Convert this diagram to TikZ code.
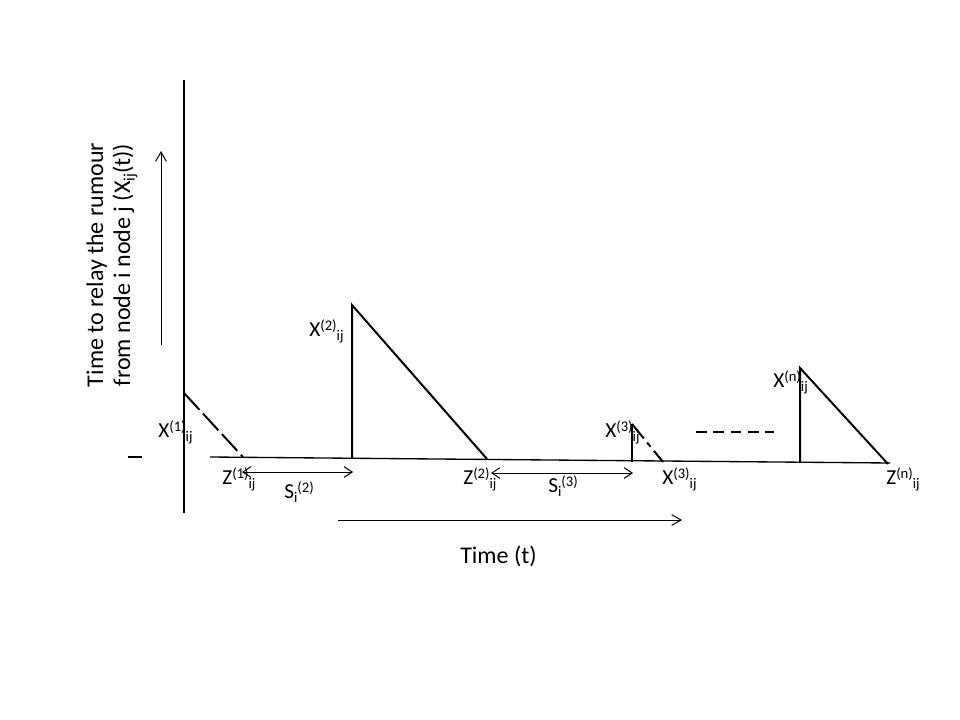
\documentclass[tikz,border=0pt]{standalone}
\usepackage{fontspec}
\setmainfont{Carlito}
\usetikzlibrary{arrows.meta}
\newcommand\SupT[1]{\raisebox{4.5pt}{\fontsize{11}{11}\selectfont #1}}
\newcommand\SubT[1]{\raisebox{-3.5pt}{\fontsize{11}{11}\selectfont #1}}
\newcommand\SubY[1]{\raisebox{-3.5pt}{\fontsize{12}{12}\selectfont #1}}
\begin{document}
\begin{tikzpicture}[x=0.75pt,y=-0.75pt,
  lab/.style={anchor=base west,inner sep=0pt,font=\fontsize{16}{19}\selectfont},
  big/.style={inner sep=0pt,font=\fontsize{18}{21}\selectfont},
  axisline/.style={line width=0.8pt},
  tri/.style={line width=1.5pt},
  baseln/.style={line width=1pt},
  onearrow/.style={line width=0.75pt,-{Straight Barb[length=7pt,width=8pt]}},
  twoarrow/.style={line width=0.75pt,{Straight Barb[length=6pt,width=8pt]}-{Straight Barb[length=6pt,width=8pt]}},
  dashdiag/.style={tri,dash pattern=on 17pt off 4pt}]
\useasboundingbox (0,0) rectangle (960,720);

% coordinates
\coordinate (axT) at (184,80);
\coordinate (axB) at (184,513);
\coordinate (baseL) at (210,457);
\coordinate (baseR) at (890,463);
\coordinate (markL) at (128,457);
\coordinate (markR) at (142,457);
\coordinate (t1top) at (184,393);
\coordinate (t1end) at (243,457);
\coordinate (t2top) at (352,305);
\coordinate (t2bot) at (352,458);
\coordinate (t2end) at (487,459);
\coordinate (t3top) at (632,424);
\coordinate (t3bot) at (632,462);
\coordinate (t3end) at (663,462);
\coordinate (tntop) at (800,368);
\coordinate (tnbot) at (800,463);
\coordinate (tnend) at (888,464);
\coordinate (dotsL) at (696,432);
\coordinate (dotsR) at (774,432);
\coordinate (upB) at (161,345);
\coordinate (upT) at (161,151);
\coordinate (timeL) at (338,520);
\coordinate (timeR) at (682,520);
\coordinate (s2L) at (242,472);
\coordinate (s2R) at (353,472);
\coordinate (s3L) at (491,473);
\coordinate (s3R) at (633,473);

% axes
\draw[axisline] (axT) -- (axB);
\draw[line width=0.9pt] (markL) -- (markR);
\draw[baseln] (baseL) -- (baseR);

% triangles
\draw[dashdiag] (t1top) -- (t1end);
\draw[tri] (t2bot) -- (t2top) -- (t2end);
\draw[tri] (t3bot) -- (t3top);
\draw[dashdiag,dash pattern=on 14pt off 4pt on 4pt off 4pt] (t3top) -- (t3end);
\draw[tri] (tnbot) -- (tntop) -- (tnend);
\draw[tri,dash pattern=on 8pt off 5pt] (dotsL) -- (dotsR);

% arrows
\draw[onearrow] (upB) -- (upT);
\draw[onearrow] (timeL) -- (timeR);
\draw[twoarrow] (s2L) -- (s2R);
\draw[twoarrow] (s3L) -- (s3R);

% labels
\node[lab] (lx1) at (158,437) {X\SupT{(1)}\SubT{ij}};
\node[lab] (lz1) at (222,484) {Z\SupT{(1)}\SubT{ij}};
\node[lab] (ls2) at (284,498) {S\SubT{i}\SupT{(2)}};
\node[lab] (lx2) at (309,336) {X\SupT{(2)}\SubT{ij}};
\node[lab] (lz2) at (463,484) {Z\SupT{(2)}\SubT{ij}};
\node[lab] (ls3) at (548,492) {S\SubT{i}\SupT{(3)}};
\node[lab] (lx3a) at (605,437) {X\SupT{(3)}\SubT{ij}};
\node[lab] (lx3b) at (662,484) {X\SupT{(3)}\SubT{ij}};
\node[lab] (lxn) at (773,387) {X\SupT{(n)}\SubT{ij}};
\node[lab] (lzn) at (886,484) {Z\SupT{(n)}\SubT{ij}};

\node[big,anchor=base west] (tlab) at (460,563) {Time (t)};
\node[big,anchor=base,rotate=90] (ylab1) at (103,265) {Time to relay the rumour};
\node[big,anchor=base,rotate=90] (ylab2) at (130,265) {from node i node j (X\SubY{ij}(t))};
\end{tikzpicture}
\end{document}
